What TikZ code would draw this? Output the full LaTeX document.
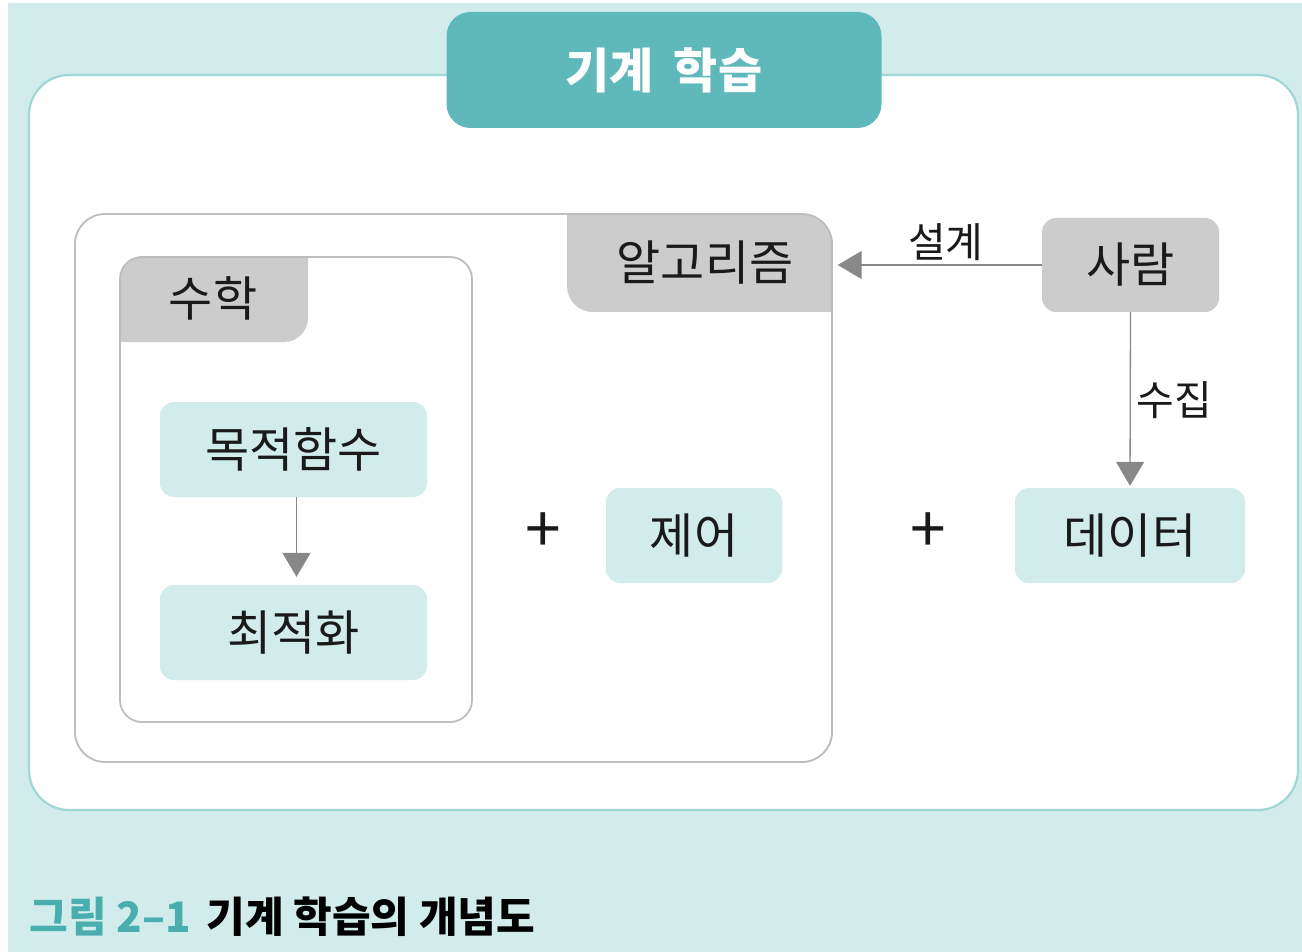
\documentclass[tikz,border=0pt]{standalone}
\usepackage{fontspec}
\setmainfont{Noto Sans CJK KR}
\usepackage{xcolor}
\usetikzlibrary{arrows.meta, positioning}
\definecolor{paleteal}{HTML}{D2ECEC}
\definecolor{edgeteal}{HTML}{9FD7D6}
\definecolor{titleteal}{HTML}{5FB9BB}
\definecolor{capteal}{HTML}{4AAEAF}
\definecolor{tabgray}{HTML}{CCCCCC}
\definecolor{linegray}{HTML}{BDBDBD}
\definecolor{arrowgray}{HTML}{888888}
\definecolor{inkgray}{HTML}{1A1A1A}

\begin{document}
\begin{tikzpicture}[
    x=1pt, y=-1pt,
    font=\fontsize{48}{56}\selectfont, text=inkgray,
    panel/.style={draw=edgeteal, line width=2.2pt, fill=white, rounded corners=40pt},
    titlebox/.style={rectangle, rounded corners=24pt, fill=titleteal, text=white,
                     font=\fontsize{48}{56}\selectfont\bfseries,
                     minimum width=435, minimum height=116},
    frame/.style={rectangle, fill=white, outer sep=0pt, inner sep=0pt},
    edge/.style={draw=linegray, line width=1.8pt},
    tab/.style={rectangle, inner sep=0pt},
    item/.style={rectangle, rounded corners=14pt, fill=paleteal, align=center,
                 minimum height=95},
    person/.style={rectangle, rounded corners=14pt, fill=tabgray,
                   minimum width=177, minimum height=94},
    plus/.style={font=\fontsize{64}{70}\selectfont},
    arrow/.style={-{Triangle[length=24pt, width=28pt]}, line width=1.3pt, draw=arrowgray},
    flowlabel/.style={font=\fontsize{41}{48}\selectfont, inner sep=2pt}
  ]
    \useasboundingbox (0,0) rectangle (1302,952);
    \fill[paleteal] (8,3) rectangle (1302,952);
    \draw[panel] (29,75) rectangle (1298,810);
    \node[titlebox] (title) at (664,70) {기계\hspace{20pt}학습};

    % algorithm frame and math frame
    \node[frame, minimum width=757, minimum height=548] (algframe) at (453.5,488) {};
    \node[frame, minimum width=352, minimum height=465] (mathframe) at (296,489.5) {};
    \begin{scope}
      \clip[rounded corners=30pt] (algframe.north west) rectangle (algframe.south east);
      \fill[tabgray, rounded corners=26pt] (567,180) rectangle (900,312);
    \end{scope}
    \begin{scope}
      \clip[rounded corners=22pt] (mathframe.north west) rectangle (mathframe.south east);
      \fill[tabgray, rounded corners=24pt] (80,220) rectangle (308,342);
    \end{scope}
    \draw[edge, rounded corners=30pt] (algframe.north west) rectangle (algframe.south east);
    \draw[edge, rounded corners=22pt] (mathframe.north west) rectangle (mathframe.south east);
    \node[tab, minimum width=265, minimum height=98] (algtab) at (705,263) {알고리즘};
    \node[tab, minimum width=188, minimum height=85] (mathtab) at (213,298) {수학};

    % boxes
    \node[item, minimum width=267] (goal)    at (293.5,449.5) {목적함수};
    \node[item, minimum width=267] (optim)   at (293.5,632.5) {최적화};
    \node[item, minimum width=176] (control) at (694,535.5)   {제어};
    \node[item, minimum width=230] (data)    at (1130,535.5)  {데이터};
    \node[person] (human) at (1130.5,265) {사람};
    \node[plus] (plusa) at (543,533) {+};
    \node[plus] (plusb) at (928,533) {+};

    % connectors
    \draw[arrow, shorten >=8pt] ([xshift=3pt]goal.south) -- ([xshift=3pt]optim.north);
    \draw[arrow] (human.west) -- (human.west -| algtab.east)
      node[midway, above=2pt, xshift=6pt, flowlabel] {설계};
    \draw[arrow, shorten >=2pt] (human.south) -- (data.north)
      node[midway, right=4pt, flowlabel] {수집};

    % caption
    \node[anchor=west, font=\fontsize{42}{48}\selectfont\bfseries, text=black] (caption)
      at (26,917) {\textcolor{capteal}{그림 2–1}\hspace{16pt}기계 학습의 개념도};
\end{tikzpicture}
\end{document}
